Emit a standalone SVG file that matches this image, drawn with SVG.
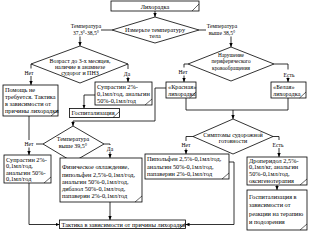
<svg xmlns="http://www.w3.org/2000/svg" width="309" height="232" viewBox="0 0 309 232">
<style>
.b{fill:#fff;stroke:#000;stroke-width:0.8}
.k{fill:none;stroke:#000;stroke-width:0.6}
.c{fill:none;stroke:#000;stroke-width:0.8}
.a{marker-end:url(#ar)}
text{font-family:"Liberation Serif","Times New Roman",serif;fill:#000}
.t{font-size:6.3px}
.d{font-size:6px;text-anchor:middle}
.l{font-size:5.6px;text-anchor:middle}
</style>
<defs>
<marker id="ar" markerWidth="4" markerHeight="4" refX="4" refY="2" orient="auto" markerUnits="userSpaceOnUse"><path d="M0,0.3 L4,2 L0,3.7 z" fill="#000"/></marker>
</defs>
<rect width="309" height="232" fill="#fff"/>
<g id="connectors">
<path class="c a" d="M155,11 V17"/>
<path class="c" d="M112,30 H101"/>
<path class="c a" d="M80,36.5 V46"/>
<path class="c" d="M199,30 H206"/>
<path class="c a" d="M231,36.5 V47"/>
<path class="c" d="M31,64 V68.5"/>
<path class="c a" d="M31,76 V85"/>
<path class="c" d="M128,64 V69"/>
<path class="c a" d="M128,77 V82"/>
<path class="c a" d="M95,95 H84 V108.5"/>
<path class="c" d="M188,64 H184 V67.5"/>
<path class="c a" d="M184,75.5 V82"/>
<path class="c" d="M274,64 H288 V69.5"/>
<path class="c a" d="M288,77.5 V82"/>
<path class="c a" d="M166,88 H155 V121 H73 V126"/>
<path class="c a" d="M186,98 V110 H233 V119"/>
<path class="c" d="M288,98 V110 H233"/>
<path class="c" d="M193,136.5 H186 V141"/>
<path class="c a" d="M186,148.5 V154"/>
<path class="c" d="M273,136.5 H279 V140"/>
<path class="c a" d="M279,148 V157"/>
<path class="c" d="M104,144 H110 V145"/>
<path class="c a" d="M110,152 V158"/>
<path class="c" d="M43,144 H36"/>
<path class="c" d="M29,116 V140"/>
<path class="c a" d="M29,147.5 V155"/>
<path class="c a" d="M29,183 V224.5 H59.5"/>
<path class="c a" d="M110,202 V220"/>
<path class="c a" d="M229,162 H234 V224.5 H185.5"/>
<path class="c a" d="M277,185 V190"/>
</g>
<g id="labels">
<text class="l" x="86" y="27.5">Температура</text>
<text class="l" x="86" y="34.5">37,3°-38,5°</text>
<text class="l" x="222" y="27.5">Температура</text>
<text class="l" x="222" y="34.5">выше 38,5°</text>
<text class="l" x="29" y="74.5">Нет</text>
<text class="l" x="127" y="75.5">Да</text>
<text class="l" x="183" y="74">Нет</text>
<text class="l" x="289" y="76.5">Есть</text>
<text class="l" x="186" y="147">Нет</text>
<text class="l" x="278" y="146.5">Есть</text>
<text class="l" x="110" y="150.5">Да</text>
<text class="l" x="29" y="146">Нет</text>
</g>
<g id="n-fever">
<rect class="b" x="111" y="1" width="88" height="10"/>
<path class="k" d="M192,11 L199,4"/>
<text class="t" x="155" y="8.5" text-anchor="middle">Лихорадка</text>
</g>
<g id="n-measure">
<polygon class="b" points="155,17 199,30 155,43 112,30"/>
<text class="d" x="155" y="31.5" style="font-size:6.3px">Измерьте температуру</text>
<text class="d" x="155" y="38" style="font-size:6.3px">тела</text>
</g>
<g id="n-age">
<polygon class="b" points="80,46 128,64 80,83 31,64"/>
<text class="d" x="80" y="62.5">Возраст до 3-х месяцев,</text>
<text class="d" x="80" y="68.5">наличие в анамнезе</text>
<text class="d" x="80" y="74.5">судорог и ПНЗ</text>
</g>
<g id="n-nohelp">
<rect class="b" x="3" y="85" width="55" height="31"/>
<path class="k" d="M51,116 L58,110"/>
<text class="t" x="5" y="91.5">Помощь не</text>
<text class="t" x="5" y="98.5">требуется. Тактика</text>
<text class="t" x="5" y="105.5">в зависимости от</text>
<text class="t" x="5" y="112.5">причины лихорадки</text>
</g>
<g id="n-suprastin1">
<rect class="b" x="95" y="82" width="57" height="23"/>
<path class="k" d="M145,105 L152,99"/>
<text class="t" x="97" y="88.5">Супрастин 2%-</text>
<text class="t" x="97" y="95.5">0,1мл/год, анальгин</text>
<text class="t" x="97" y="102.5">50%-0,1мл/год</text>
</g>
<g id="n-hosp1">
<rect class="b" x="69.5" y="108.5" width="50" height="9"/>
<path class="k" d="M113,117.5 L119.5,111.5"/>
<text class="t" x="71.5" y="115.2">Госпитализация</text>
</g>
<g id="n-circ">
<polygon class="b" points="231,47 274,64 231,81 188,64"/>
<text class="d" x="231" y="56.5" style="font-size:5.3px">Нарушение</text>
<text class="d" x="231" y="63" style="font-size:5.3px">периферического</text>
<text class="d" x="231" y="69.5" style="font-size:5.3px">кровообращения</text>
</g>
<g id="n-red">
<rect class="b" x="166" y="82" width="30" height="16"/>
<path class="k" d="M189.5,98 L196,92"/>
<text class="t" x="168" y="88.5">«Красная»</text>
<text class="t" x="168" y="95.5">лихорадка</text>
</g>
<g id="n-white">
<rect class="b" x="271" y="82" width="35" height="16"/>
<path class="k" d="M299.5,98 L306,92"/>
<text class="t" x="273" y="88.5">«Белая»</text>
<text class="t" x="273" y="95.5">лихорадка</text>
</g>
<g id="n-t395">
<polygon class="b" points="73,126 104,144 73,162 43,144"/>
<text class="d" x="73" y="141">Температура</text>
<text class="d" x="73" y="147.5">выше 39,5°</text>
</g>
<g id="n-seiz">
<polygon class="b" points="233,119 273,136.5 233,154 193,136.5"/>
<text class="d" x="233" y="136.5">Симптомы судорожной</text>
<text class="d" x="233" y="143">готовности</text>
</g>
<g id="n-suprastin2">
<rect class="b" x="4" y="155" width="47" height="28"/>
<path class="k" d="M44,183 L51,177"/>
<text class="t" x="6" y="161.5">Супрастин 2%-</text>
<text class="t" x="6" y="168">0,1мл/год,</text>
<text class="t" x="6" y="174.5">анальгин 50%-</text>
<text class="t" x="6" y="181">0,1мл/год</text>
</g>
<g id="n-cool">
<rect class="b" x="60" y="158" width="82" height="44"/>
<path class="k" d="M135,202 L142,196"/>
<text class="t" x="62" y="169">Физическое охлаждение,</text>
<text class="t" x="62" y="176.5">пипольфен 2,5%-0,1мл/год,</text>
<text class="t" x="62" y="183.5">анальгин 50%-0,1мл/год,</text>
<text class="t" x="62" y="190.5">дибазол 50%-0,1мл/год,</text>
<text class="t" x="62" y="197.5">папаверин 2%-0,1мл/год</text>
</g>
<g id="n-pipolfen">
<rect class="b" x="145" y="154" width="84" height="25"/>
<path class="k" d="M222,179 L229,173"/>
<text class="t" x="147" y="161">Пипольфен 2,5%-0,1мл/год,</text>
<text class="t" x="147" y="168.5">анальгин 50%-0,1мл/год,</text>
<text class="t" x="147" y="176">папаверин 2%-0,1мл/год</text>
</g>
<g id="n-droperidol">
<rect class="b" x="247" y="157" width="60" height="28"/>
<path class="k" d="M300,185 L307,179"/>
<text class="t" x="249" y="162.5">Дроперидол 2,5%-</text>
<text class="t" x="249" y="169.2">0,1мл/кг, анальгин</text>
<text class="t" x="249" y="175.9">50%-0,1мл/год,</text>
<text class="t" x="249" y="182.6">оксигенотерапия</text>
</g>
<g id="n-hosp2">
<rect class="b" x="247" y="190" width="60" height="40"/>
<path class="k" d="M300,230 L307,224"/>
<text class="t" x="249" y="199">Госпитализация в</text>
<text class="t" x="249" y="207.3">зависимости от</text>
<text class="t" x="249" y="215.6">реакции на терапию</text>
<text class="t" x="249" y="223.9">и подозрения</text>
</g>
<g id="n-tactic">
<rect class="b" x="59.5" y="220" width="126" height="8.5"/>
<path class="k" d="M179.5,228.5 L185.5,223"/>
<text class="t" x="61.5" y="226.5">Тактика в зависимости от причины лихорадки</text>
</g>
</svg>
